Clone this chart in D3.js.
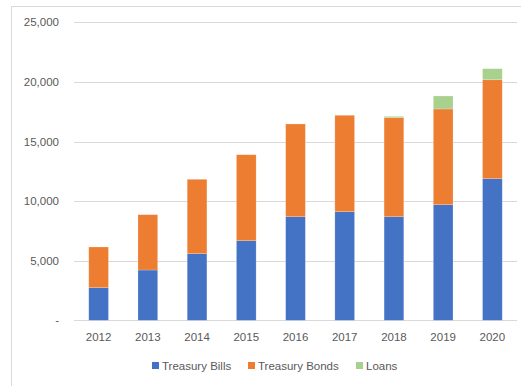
<!DOCTYPE html>
<html>
<head>
<meta charset="utf-8">
<script src="https://cdn.jsdelivr.net/npm/d3@7"></script>
<style>
  body { margin: 0; background: #fff; }
  text { font-family: "Liberation Sans", Arial, sans-serif; fill: #595959; }
</style>
</head>
<body>
<div class="chart"></div>
<script>
var years = ['2012', '2013', '2014', '2015', '2016', '2017', '2018', '2019', '2020'];
var bills = [2735, 4220, 5590, 6680, 8690, 9110, 8690, 9700, 11880];
var bonds = [3414, 4640, 6240, 7210, 7780, 8090, 8310, 8030, 8300];
var loans = [0, 0, 0, 0, 0, 0, 110, 1090, 930];
var seriesNames = ['Treasury Bills', 'Treasury Bonds', 'Loans'];
var colors = ['#4472C4', '#ED7D31', '#A9D18E'];
var yTicks = [0, 5000, 10000, 15000, 20000, 25000];

var rows = years.map(function(y, i) {
  return { year: y, 'Treasury Bills': bills[i], 'Treasury Bonds': bonds[i], 'Loans': loans[i] };
});

var svg = d3.select('.chart').append('svg')
            .attr('width', 521)
            .attr('height', 386);

// chart frame
svg.append('rect')
   .attr('x', 11.5).attr('y', 6.5)
   .attr('width', 530).attr('height', 400)
   .attr('fill', 'none')
   .attr('stroke', '#D9D9D9');

var x = d3.scaleBand().domain(years).range([74, 517]).paddingInner(0.6).paddingOuter(0.3);
var y = d3.scaleLinear().domain([0, 25000]).range([320.3, 22.3]);

// gridlines
svg.selectAll('.grid')
   .data(yTicks)
   .enter().append('line')
     .attr('x1', 74).attr('x2', 517)
     .attr('y1', function(d){ return Math.round(y(d)) + 0.5; })
     .attr('y2', function(d){ return Math.round(y(d)) + 0.5; })
     .attr('stroke', '#D9D9D9')
     .attr('stroke-width', 1);

// y labels
svg.selectAll('.ylab')
   .data(yTicks)
   .enter().append('text')
     .attr('x', 59)
     .attr('y', function(d){ return y(d) + 4; })
     .attr('text-anchor', 'end')
     .style('font-size', '11.5px')
     .text(function(d){ return d === 0 ? '-' : d3.format(',')(d); });

var stacked = d3.stack().keys(seriesNames)(rows);

svg.selectAll('.series')
   .data(stacked)
   .enter().append('g')
     .attr('fill', function(d, i){ return colors[i]; })
   .selectAll('rect')
   .data(function(d){ return d; })
   .enter().append('rect')
     .attr('x', function(d){ return x(d.data.year); })
     .attr('width', x.bandwidth())
     .attr('y', function(d){ return y(d[1]); })
     .attr('height', function(d){ return Math.max(0, y(d[0]) - y(d[1])); })
     .attr('stroke', '#ffffff')
     .attr('stroke-opacity', 0.35)
     .attr('stroke-width', 0.6);

// x labels
svg.selectAll('.xlab')
   .data(years)
   .enter().append('text')
     .attr('x', function(d){ return x(d) + x.bandwidth() / 2; })
     .attr('y', 341)
     .attr('text-anchor', 'middle')
     .style('font-size', '11.5px')
     .text(function(d){ return d; });

// legend
var legendX = [152, 248, 356];
var legend = svg.selectAll('.legend')
   .data(seriesNames)
   .enter().append('g')
     .attr('transform', function(d, i){ return 'translate(' + legendX[i] + ',362)'; });

legend.append('rect')
   .attr('width', 7).attr('height', 7)
   .attr('fill', function(d, i){ return colors[i]; });

legend.append('text')
   .attr('x', 10).attr('y', 7.5)
   .style('font-size', '11.5px')
   .text(function(d){ return d; });
</script>
</body>
</html>
